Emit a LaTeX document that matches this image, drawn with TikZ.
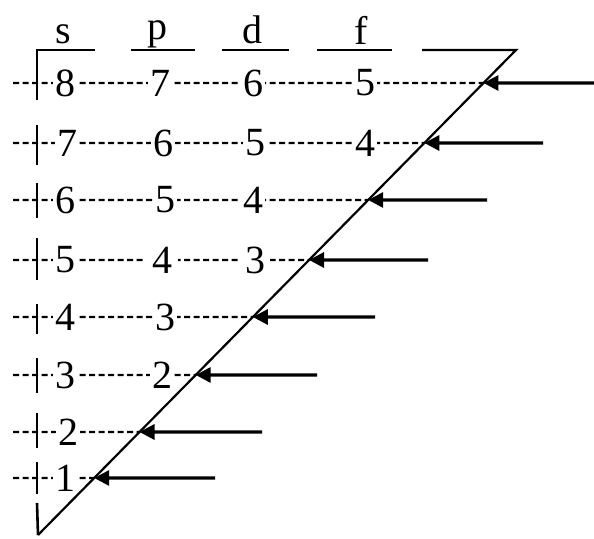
\documentclass[tikz,border=0pt]{standalone}
\usepackage{fontspec}
\setmainfont{Liberation Serif}
\usetikzlibrary{arrows.meta,calc}
\begin{document}
\begin{tikzpicture}[x=1pt,y=-1pt,
  lbl/.style={font=\fontsize{40}{40}\selectfont, inner sep=2pt, fill=white},
  hdr/.style={font=\fontsize{40}{40}\selectfont, inner sep=0pt},
  rule/.style={line width=2.4pt},
  dline/.style={line width=2.2pt, dash pattern=on 6pt off 3.5pt},
  tick/.style={line width=2.6pt},
  arr/.style={line width=3.2pt, -{Triangle[length=15pt,width=15pt]}},
  diag/.style={line width=2.2pt}]
\useasboundingbox (0,0) rectangle (594,538);
% header
\node[hdr] (hs) at (63,34) {s};
\node[hdr] (hp) at (157,34) {p};
\node[hdr] (hd) at (252,30) {d};
\node[hdr] (hf) at (361,30) {f};
\coordinate (top) at (516,50);
\coordinate (bot) at (38,535);
\draw[rule] (37,100) -- (37,50) -- (95,50);
\draw[rule] (131,50) -- (195,50);
\draw[rule] (222,50) -- (289,50);
\draw[rule] (317,50) -- (392,50);
\draw[diag] (422,50) -- (top) -- (bot);
% tip coordinates on the diagonal
\foreach \n/\y in {8/83,7/143,6/200,5/260,4/317,3/375,2/432,1/478}{
  \coordinate (t\n) at ($(top)!{(\y-50)/485}!(bot)$);
  \coordinate (l\n) at (13,\y);
}
\coordinate (e8) at (594,83);
\coordinate (e7) at (543,143);
\coordinate (e6) at (487,200);
\coordinate (e5) at (428,260);
\coordinate (e4) at (375,317);
\coordinate (e3) at (317,375);
\coordinate (e2) at (262,432);
\coordinate (e1) at (215,478);
% dashed rows
\foreach \n in {1,...,8}{
  \draw[dline] (l\n) -- (t\n);
}
% vertical ticks
\draw[tick] (37,125) -- (37,165);
\draw[tick] (37,183) -- (37,218);
\draw[tick] (37,238) -- (37,280);
\draw[tick] (37,304) -- (37,334);
\draw[tick] (37,358) -- (37,393);
\draw[tick] (37,413) -- (37,448);
\draw[tick] (37,462) -- (37,494);
\draw[tick] (37,503) -- (bot);
% arrows
\foreach \n in {1,...,8}{
  \draw[arr] (e\n) -- (t\n);
}
% numbers
\node[lbl] (n8s) at (65,83) {8};
\node[lbl] (n8p) at (160,83) {7};
\node[lbl] (n8d) at (253,83) {6};
\node[lbl] (n8f) at (365,83) {5};
\node[lbl] (n7s) at (67,143) {7};
\node[lbl] (n7p) at (163,143) {6};
\node[lbl] (n7d) at (255,143) {5};
\node[lbl] (n7f) at (365,143) {4};
\node[lbl] (n6s) at (65,200) {6};
\node[lbl] (n6p) at (165,200) {5};
\node[lbl] (n6d) at (253,200) {4};
\node[lbl] (n5s) at (65,260) {5};
\node[lbl, inner xsep=6pt] (n5p) at (162,260) {4};
\node[lbl, inner xsep=5pt] (n5d) at (255,260) {3};
\node[lbl] (n4s) at (65,317) {4};
\node[lbl] (n4p) at (165,317) {3};
\node[lbl] (n3s) at (65,375) {3};
\node[lbl] (n3p) at (162,375) {2};
\node[lbl] (n2s) at (68,432) {2};
\node[lbl] (n1s) at (65,478) {1};
\end{tikzpicture}
\end{document}
